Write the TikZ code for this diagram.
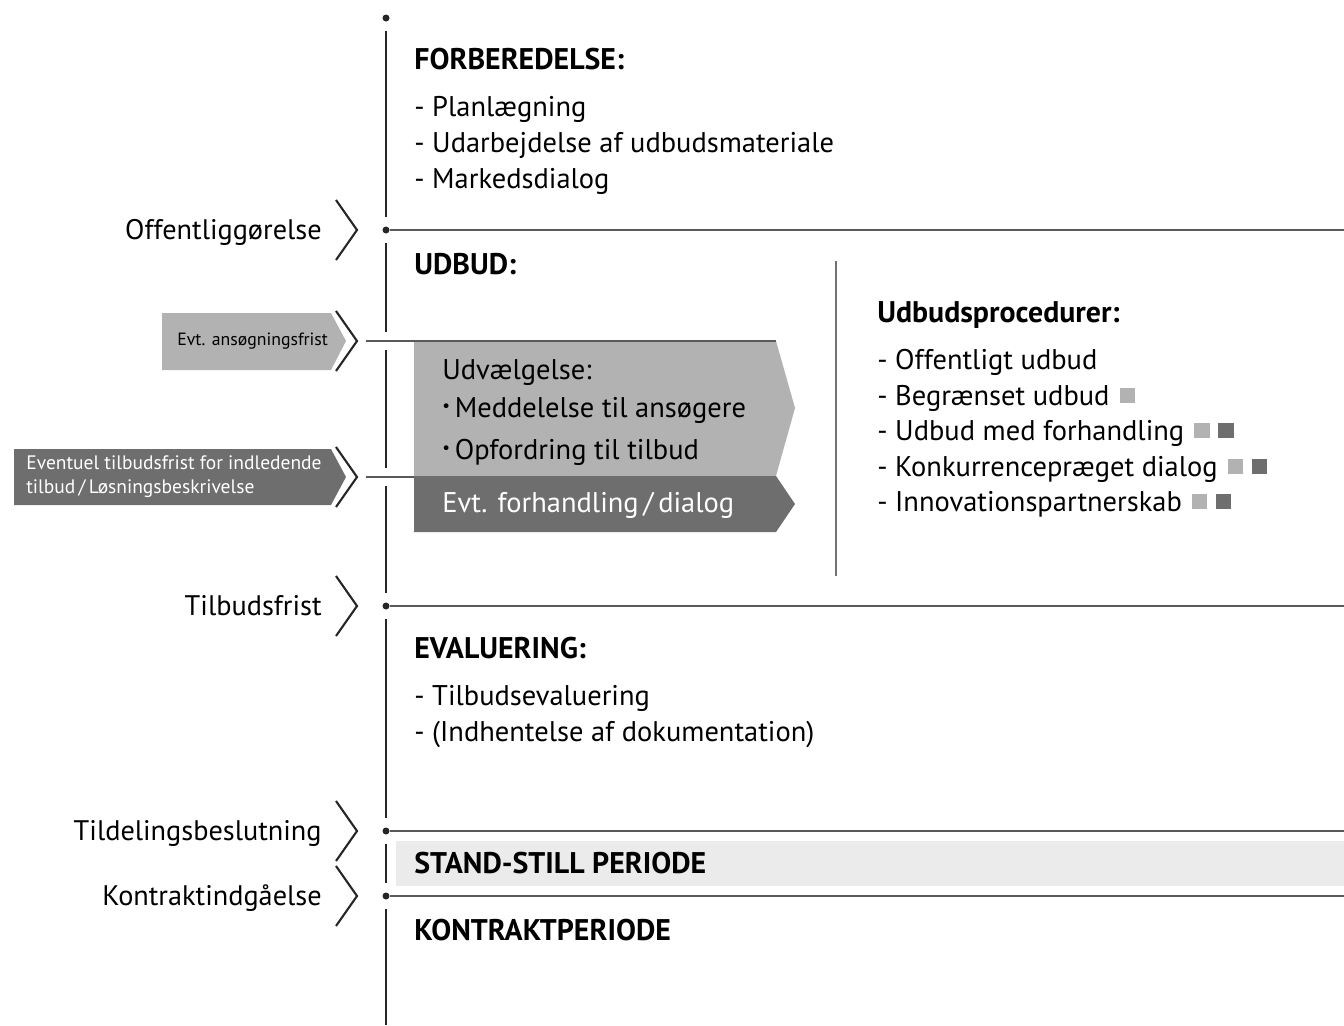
\documentclass[tikz,border=0pt]{standalone}
\usepackage{fontspec}
\setmainfont{PT Sans}
\usetikzlibrary{calc, positioning}
\definecolor{grey1}{RGB}{178,178,178}
\definecolor{grey2}{RGB}{110,110,110}
\definecolor{grey3}{RGB}{235,235,235}
\definecolor{line1}{RGB}{90,90,90}
\def\SqL{\hspace{0.2cm}\textcolor{grey1}{\rule[0.04cm]{0.31cm}{0.31cm}}}
\def\SqD{\hspace{0.17cm}\textcolor{grey2}{\rule[0.04cm]{0.31cm}{0.31cm}}}
\def\Bul{\raisebox{0.18em}{\scalebox{0.6}{\textbullet}}\,}

\begin{document}
\begin{tikzpicture}[x=0.02cm, y=-0.02cm,
    heading/.style={anchor=base west, inner sep=0pt, font=\fontsize{17}{20}\selectfont\bfseries},
    body/.style={anchor=base west, inner sep=0pt, font=\fontsize{16.2}{19}\selectfont},
    milestone/.style={anchor=base east, inner sep=0pt, font=\fontsize{16.1}{19}\selectfont},
    small/.style={anchor=west, inner sep=0pt, align=left, font=\fontsize{#1}{13.6}\selectfont},
    small/.default=10.6,
    dot/.style={circle, fill=black!85, inner sep=0pt, minimum size=0.14cm},
    chevron/.style={line width=1.2pt, black!85},
    timeline/.style={line width=1.1pt, black!85, shorten <=0.18cm, shorten >=0.18cm},
    phase/.style={line width=0.8pt, line1},
    divider/.style={line width=0.8pt, black!55}
]
    \useasboundingbox (0,0) rectangle (1344,1025);
    \coordinate (rim) at (1344,0);

    % stand-still band
    \fill[grey3] (396,841) rectangle (1344,886);

    % arrows for the udbud phase
    \fill[grey1] (162,313) -- (331,313) -- (346,341) -- (331,370) -- (162,370) -- cycle;
    \fill[grey2] (14,449) -- (331,449) -- (346,477) -- (331,505) -- (14,505) -- cycle;
    \fill[grey1] (414,341) -- (776,341) -- (795,408) -- (776,476) -- (414,476) -- cycle;
    \fill[grey2] (414,476) -- (776,476) -- (795,504) -- (776,532) -- (414,532) -- cycle;

    % timeline
    \node[dot, name=D0] at (386,18) {};
    \coordinate (A1) at (386,341);
    \coordinate (A2) at (386,477);
    \coordinate (E) at (386,1025);
    \foreach \n/\y/\txt in {1/230/Offentliggørelse, 2/606/Tilbudsfrist, 3/831/Tildelingsbeslutning, 4/896/Kontraktindgåelse}
    {
        \node[dot, name=D\n] at (386,\y) {};
        \node[milestone, name=M\n] at (322,\y+9) {\txt};
        \draw[chevron] (336,\y-30) -- (357,\y) -- (336,\y+30);
        \draw[phase] (D\n) -- (D\n -| rim);
    };
    \draw[chevron] (336,311) -- (357,341) -- (336,371);
    \draw[chevron] (336,447) -- (357,477) -- (336,507);
    \draw[timeline] (D0) -- (D1);
    \draw[timeline] (D1) -- (A1);
    \draw[timeline] (A1) -- (A2);
    \draw[timeline] (A2) -- (D2);
    \draw[timeline] (D2) -- (D3);
    \draw[timeline] (D3) -- (D4);
    \draw[timeline, shorten >=0pt] (D4) -- (E);

    \coordinate (L1) at (366,341);
    \coordinate (L2) at (366,477);
    \draw[phase] (L1) -- ++(410,0);
    \draw[phase] (L2) -- ++(48,0);

    % divider
    \coordinate (V1) at (836,261);
    \coordinate (V2) at (836,576);
    \draw[divider] (V1) -- (V2);

    % texts
    \node[heading, name=forb] at (414,69) {FORBEREDELSE:};
    \node[body] at (414,116) {- Planlægning};
    \node[body] at (414,152) {- Udarbejdelse af udbudsmateriale};
    \node[body] at (414,188) {- Markedsdialog};

    \node[heading, name=udbud] at (414,274) {UDBUD:};
    \node[small=10.1, name=frist1] at (177,341) {Evt. ansøgningsfrist};
    \node[small=11.1, name=frist2, text=white] at (26,477) {Eventuel tilbudsfrist for indledende\\tilbud\,/\,Løsningsbeskrivelse};
    \node[body, name=udv] at (442,379) {Udvælgelse:};
    \node[body] at (442,417) {\Bul Meddelelse til ansøgere};
    \node[body] at (442,459) {\Bul Opfordring til tilbud};
    \node[body, text=white, name=forh] at (442,512) {Evt. forhandling\,/\,dialog};

    \node[heading, name=proc] at (877,322) {Udbudsprocedurer:};
    \node[body] at (877,369) {- Offentligt udbud};
    \node[body] at (877,405) {- Begrænset udbud\SqL};
    \node[body] at (877,440) {- Udbud med forhandling\SqL\SqD};
    \node[body] at (877,476) {- Konkurrencepræget dialog\SqL\SqD};
    \node[body] at (877,511) {- Innovationspartnerskab\SqL\SqD};

    \node[heading, name=eval] at (414,658) {EVALUERING:};
    \node[body] at (414,705) {- Tilbudsevaluering};
    \node[body] at (414,741) {- (Indhentelse af dokumentation)};

    \node[heading, name=still] at (414,873) {STAND-STILL PERIODE};
    \node[heading, name=kontrakt] at (414,940) {KONTRAKTPERIODE};
\end{tikzpicture}
\end{document}
